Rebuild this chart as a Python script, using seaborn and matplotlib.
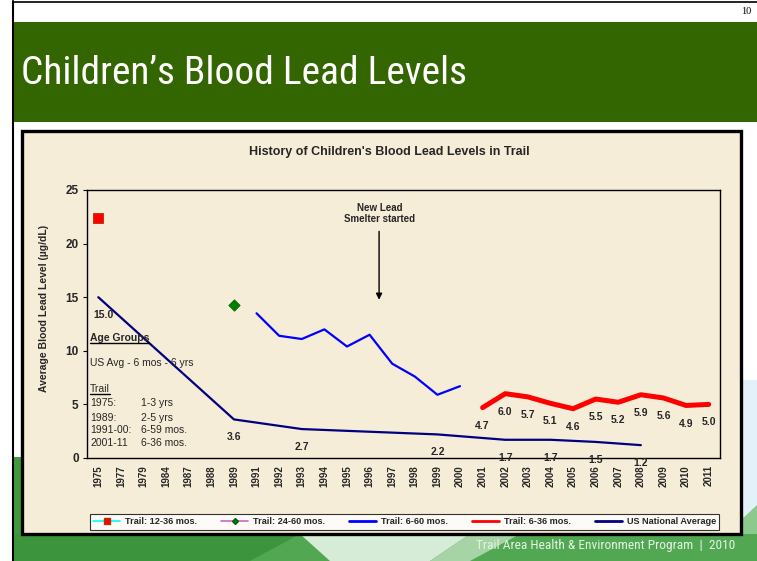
import matplotlib
matplotlib.use("Agg")
import matplotlib.pyplot as plt
from matplotlib import font_manager
import seaborn as sns
import pandas as pd
import numpy as np
from matplotlib.patches import Rectangle, Polygon
from matplotlib.lines import Line2D

# ---------------- data ----------------
years = ['1975', '1977', '1979', '1984', '1987', '1988', '1989', '1991', '1992', '1993',
         '1994', '1995', '1996', '1997', '1998', '1999', '2000', '2001', '2002', '2003',
         '2004', '2005', '2006', '2007', '2008', '2009', '2010', '2011']

trail_1236_years = ['1975']
trail_1236_vals = [22.4]

trail_2460_years = ['1989']
trail_2460_vals = [14.3]

trail_660_years = ['1991', '1992', '1993', '1994', '1995', '1996', '1997', '1998', '1999', '2000']
trail_660_vals = [13.5, 11.4, 11.1, 12.0, 10.4, 11.5, 8.8, 7.6, 5.9, 6.7]

trail_636_years = ['2001', '2002', '2003', '2004', '2005', '2006', '2007', '2008', '2009', '2010', '2011']
trail_636_vals = [4.7, 6.0, 5.7, 5.1, 4.6, 5.5, 5.2, 5.9, 5.6, 4.9, 5.0]

us_years = ['1975', '1989', '1993', '1999', '2002', '2004', '2006', '2008']
us_vals = [15.0, 3.6, 2.7, 2.2, 1.7, 1.7, 1.5, 1.2]

legend_labels = ['Trail: 12-36 mos.', 'Trail: 24-60 mos.', 'Trail: 6-60 mos.',
                 'Trail: 6-36 mos.', 'US National Average']

slide_title = 'Children\u2019s Blood Lead Levels'
chart_title = "History of Children's Blood Lead Levels in Trail"
y_label = 'Average Blood Lead Level (\u00b5g/dL)'
footer = 'Trail Area Health & Environment Program  |  2010'


def frame(yrs, vals):
    return pd.DataFrame({'x': [years.index(y) for y in yrs], 'y': vals})


df_1236 = frame(trail_1236_years, trail_1236_vals)
df_2460 = frame(trail_2460_years, trail_2460_vals)
df_660 = frame(trail_660_years, trail_660_vals)
df_636 = frame(trail_636_years, trail_636_vals)
df_us = frame(us_years, us_vals)

# ---------------- fonts ----------------
sns.set_theme(style='white')
plt.rcParams['font.family'] = ['Liberation Sans', 'DejaVu Sans']

installed = {f.name for f in font_manager.fontManager.ttflist}
narrow_family = None
for cand in ['Liberation Sans Narrow', 'Arial Narrow', 'DejaVu Sans Condensed',
             'Roboto Condensed', 'Noto Sans Condensed', 'Open Sans Condensed']:
    if cand in installed:
        narrow_family = cand
        break
if narrow_family is None:
    narrow_family = 'Roboto' if 'Roboto' in installed else 'Liberation Sans'

W, H = 757, 561
fig = plt.figure(figsize=(W / 100, H / 100), dpi=100)
fig.patch.set_facecolor('white')


def fx(x):
    return x / W


def fy(y):
    return 1 - y / H


def frect(x0, y0, x1, y1, **kw):
    fig.patches.append(Rectangle((fx(x0), fy(y1)), fx(x1) - fx(x0), fy(y0) - fy(y1),
                                 transform=fig.transFigure, **kw))


def fpoly(pts, **kw):
    fig.patches.append(Polygon([(fx(a), fy(b)) for a, b in pts], closed=True,
                               transform=fig.transFigure, **kw))


# slide background decorations
fpoly([(13, 457), (22, 457), (22, 561), (13, 561)], facecolor='#3f9a3f', edgecolor='none', zorder=0)
fpoly([(741, 380), (757, 380), (757, 561), (741, 561)], facecolor='#e3f1fb', edgecolor='none', zorder=0)
fpoly([(741, 520), (757, 505), (757, 561), (741, 561)], facecolor='#8cc98c', edgecolor='none', zorder=0)
fpoly([(13, 534), (757, 534), (757, 561), (13, 561)], facecolor='#52a852', edgecolor='none', zorder=0)
fpoly([(13, 534), (300, 534), (250, 561), (13, 561)], facecolor='#3c953c', edgecolor='none', zorder=0)
fpoly([(300, 534), (470, 534), (430, 561), (330, 561)], facecolor='#d6ecd6', edgecolor='none', zorder=0)
fpoly([(470, 534), (520, 534), (470, 561), (430, 561)], facecolor='#a6d4a6', edgecolor='none', zorder=0)

# slide outline
fig.add_artist(Line2D([fx(13), fx(13)], [fy(1), fy(561)], color='black', lw=1.5, transform=fig.transFigure))
fig.add_artist(Line2D([fx(13), fx(757)], [fy(2), fy(2)], color='black', lw=1.2, transform=fig.transFigure))

# header band
frect(13, 22, 757, 122, facecolor='#336600', edgecolor='none', zorder=1)
t_title = fig.text(fx(21), fy(73), slide_title, color='white', fontsize=30,
                   family=[narrow_family, 'DejaVu Sans'], ha='left', va='center')
fig.text(fx(751), fy(12), '10', fontsize=7.5, family=['Liberation Serif', 'DejaVu Serif'],
         ha='right', va='center', color='black')

# chart panel
parch = '#f6edd8'
frect(22, 131, 741, 534, facecolor=parch, edgecolor='black', lw=2.4, zorder=1)
fig.text(fx(389), fy(152), chart_title, fontsize=9, fontweight='bold', ha='center', va='center')

fig.text(fx(44), fy(308), y_label, rotation=90, fontsize=7.5, fontweight='bold',
         ha='center', va='center')

t_footer = fig.text(fx(735), fy(545), footer, fontsize=8.5, color='#e4f2e4', ha='right', va='center',
                    family=[narrow_family, 'DejaVu Sans'])

# axes
ax = fig.add_axes([fx(87), fy(458), fx(720) - fx(87), fy(190) - fy(458)])
ax.set_facecolor(parch)
ax.set_zorder(2)

lw_thin = 1.6
sns.lineplot(data=df_us, x='x', y='y', ax=ax, color='#000080', linewidth=lw_thin, legend=False, zorder=3)
sns.lineplot(data=df_660, x='x', y='y', ax=ax, color='#0000ff', linewidth=lw_thin, legend=False, zorder=3)
sns.lineplot(data=df_636, x='x', y='y', ax=ax, color='#ff0000', linewidth=3.6, legend=False, zorder=4)
sns.scatterplot(data=df_1236, x='x', y='y', ax=ax, marker='s', s=55, color='#ff0000',
                edgecolor='#b03000', linewidth=0.6, legend=False, zorder=5)
sns.scatterplot(data=df_2460, x='x', y='y', ax=ax, marker='D', s=34, color='#008000',
                edgecolor='#006000', linewidth=0.5, legend=False, zorder=5)

ax.set_xlim(-0.5, len(years) - 0.5)
ax.set_ylim(0, 25)
ax.set_xticks(range(len(years)))
ax.set_xticklabels(years, rotation=90, fontsize=7, fontweight='bold')
ax.set_yticks([0, 5, 10, 15, 20, 25])
ax.set_yticklabels(['0', '5', '10', '15', '20', '25'], fontsize=8.5, fontweight='bold')
ax.tick_params(axis='y', length=3, width=0.8, direction='out', color='black', pad=3, left=True)
ax.tick_params(axis='x', length=0, pad=5)
ax.set_xlabel('')
ax.set_ylabel('')
for s in ax.spines.values():
    s.set_color('black')
    s.set_linewidth(1.0)
    s.set_visible(True)

# data labels
for df in (df_us, df_636):
    for i, (xv, yv) in enumerate(zip(df['x'], df['y'])):
        dx = 3.5 if (df is df_us and i == 0) else 0
        ax.annotate(f'{yv:.1f}', (xv, yv), xytext=(dx, -13), textcoords='offset points',
                    ha='center', va='center', fontsize=7.5, fontweight='bold', zorder=6,
                    annotation_clip=False)

# smelter annotation
ax.text(12.45, 22.8, 'New Lead\nSmelter started', ha='center', va='center', fontsize=7,
        fontweight='bold', linespacing=1.1)
ax.annotate('', xy=(12.42, 14.5), xytext=(12.42, 21.4),
            arrowprops=dict(arrowstyle='-|>', color='black', lw=1.0, mutation_scale=9))

# age group notes (figure pixel positions)
notes_fs = 7.5
t_age = fig.text(fx(90), fy(338), 'Age Groups', fontsize=notes_fs, fontweight='bold', ha='left', va='center', zorder=10)
fig.text(fx(90), fy(363), 'US Avg - 6 mos - 6 yrs', fontsize=notes_fs, ha='left', va='center', zorder=10)
t_trail = fig.text(fx(90), fy(389), 'Trail', fontsize=notes_fs, ha='left', va='center', zorder=10)
rows = [('1975:', '1-3 yrs', 403), ('1989:', '2-5 yrs', 418),
        ('1991-00:', '6-59 mos.', 430), ('2001-11', '6-36 mos.', 443)]
for a, b, yy in rows:
    fig.text(fx(90), fy(yy), a, fontsize=notes_fs, ha='left', va='center', zorder=10)
    fig.text(fx(141), fy(yy), b, fontsize=notes_fs, ha='left', va='center', zorder=10)

# legend
handles = [
    Line2D([], [], color='#00ffff', lw=1.2, marker='s', markersize=4, markerfacecolor='#ff0000', markeredgecolor='#b03000'),
    Line2D([], [], color='#cc66cc', lw=1.2, marker='D', markersize=3, markerfacecolor='#008000', markeredgecolor='#006000'),
    Line2D([], [], color='#0000ff', lw=2.0),
    Line2D([], [], color='#ff0000', lw=2.0),
    Line2D([], [], color='#000080', lw=2.0),
]
leg = ax.legend(handles, legend_labels, loc='center', bbox_to_anchor=(fx(404.5), fy(522)),
                bbox_transform=fig.transFigure, ncol=5, frameon=True, fancybox=False,
                prop={'size': 6.6, 'weight': 'bold'}, handlelength=3.0, handletextpad=0.5,
                columnspacing=2.6, borderpad=0.35)
leg.get_frame().set_edgecolor('black')
leg.get_frame().set_facecolor('white')
leg.get_frame().set_linewidth(0.8)

# fit slide title / footer widths to the reference
fig.canvas.draw()
r = fig.canvas.get_renderer()
bb = t_title.get_window_extent(r)
target = 445.0
if bb.width > target * 1.02:
    t_title.set_fontsize(30 * max(0.88, target / bb.width))
bb = t_footer.get_window_extent(r)
t_footer.set_fontsize(min(10.0, 8.5 * 257 / bb.width))

# underline notes
fig.canvas.draw()
for t in (t_age, t_trail):
    bb = t.get_window_extent(r)
    yline = bb.y0 + 0.5
    fig.add_artist(Line2D([bb.x0 / W, bb.x1 / W], [yline / H, yline / H], color='black', lw=1.0,
                          transform=fig.transFigure, zorder=10))

fig.savefig('out.png', dpi=100, facecolor=fig.get_facecolor())
